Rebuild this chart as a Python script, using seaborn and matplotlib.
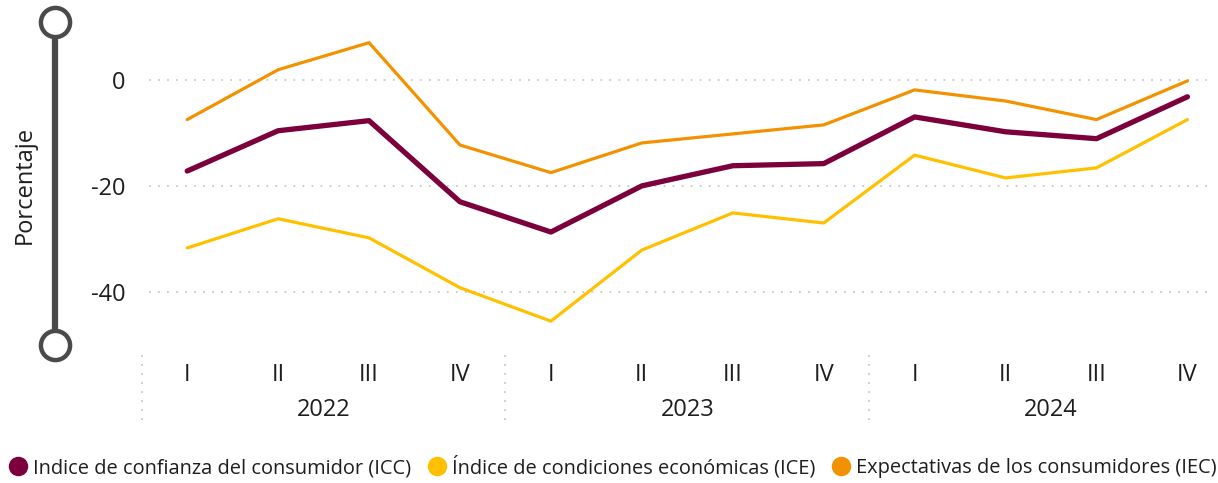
import matplotlib
matplotlib.use("Agg")
import matplotlib.pyplot as plt
from matplotlib.lines import Line2D
import matplotlib.transforms as mtrans
import seaborn as sns
import pandas as pd
import numpy as np

sns.set_theme(style="white")
plt.rcParams['font.family'] = ['Open Sans', 'DejaVu Sans']

years = ["2022", "2023", "2024"]
quarters = ["I", "II", "III", "IV"]
icc = [-17.2, -9.6, -7.7, -23.0, -28.7, -20.0, -16.2, -15.8, -7.0, -9.8, -11.1, -3.2]
ice = [-31.7, -26.2, -29.8, -39.2, -45.5, -32.1, -25.1, -27.0, -14.2, -18.5, -16.6, -7.5]
iec = [-7.5, 1.9, 7.0, -12.3, -17.5, -11.9, -10.2, -8.5, -1.9, -4.0, -7.5, -0.2]

names = ["Indice de confianza del consumidor (ICC)",
         "Índice de condiciones económicas (ICE)",
         "Expectativas de los consumidores (IEC)"]
colors = ["#7B003C", "#FFC000", "#F39200"]
widths = [3.8, 2.3, 2.3]
textc = "#1E1E1E"

W, H = 1218, 483
fig = plt.figure(figsize=(W / 100, H / 100), dpi=100)
ax = fig.add_axes([149 / W, 1 - 345 / H, (1212 - 149) / W, (345 - 22) / H])

x = np.arange(len(icc))
series = [icc, ice, iec]
for idx in [1, 2, 0]:
    df = pd.DataFrame({"x": x, "v": series[idx]})
    sns.lineplot(data=df, x="x", y="v", ax=ax, color=colors[idx],
                 linewidth=widths[idx], solid_capstyle="round",
                 solid_joinstyle="round")

ax.set_xlim(-0.42, 11.27)
ax.set_ylim(-50, 10.9)
ax.set_yticks([-40, -20, 0])
ax.set_yticklabels(["-40", "-20", "0"], fontsize=17, color=textc)
ax.yaxis.grid(True, linestyle=(0, (1, 4)), color="#C8C8C8", linewidth=1.3)
ax.xaxis.grid(False)
for s in ax.spines.values():
    s.set_visible(False)
ax.tick_params(axis="y", length=0, pad=17)
ax.tick_params(axis="x", length=0, pad=13)
ax.set_xticks(x)
ax.set_xticklabels(quarters * len(years), fontsize=17, color=textc)
ax.set_xlabel("")
ax.set_ylabel("")

trans = mtrans.blended_transform_factory(ax.transData, ax.transAxes)
for i, yr in enumerate(years):
    ax.text(i * 4 + 1.5, -0.2, yr, transform=trans, ha="center", va="center",
            fontsize=17, color=textc)
for b in [-0.5, 3.5, 7.5]:
    ax.add_line(Line2D([b, b], [-0.03, -0.25], transform=trans, clip_on=False,
                       color="#C8C8C8", linestyle=(0, (1, 4)), linewidth=1.3))

fig.text(25 / W, 1 - 185 / H, "Porcentaje", rotation=90, ha="center", va="center",
         fontsize=17, color=textc)

fig.add_artist(Line2D([55 / W, 55 / W], [1 - 22 / H, 1 - 345 / H],
                      transform=fig.transFigure, color="#4A4A4A", linewidth=4.5))
for yy in [22, 345]:
    fig.add_artist(Line2D([55 / W], [1 - yy / H], transform=fig.transFigure,
                          marker="o", markersize=21, markerfacecolor="white",
                          markeredgecolor="#4A4A4A", markeredgewidth=3.2,
                          linestyle="none"))

handles = [Line2D([], [], marker="o", linestyle="none", markersize=13,
                  markerfacecolor=c, markeredgecolor=c) for c in colors]
fig.legend(handles, names, loc="center left", bbox_to_anchor=(0.004, 1 - 467 / H),
           ncol=3, frameon=False, fontsize=14.4, handlelength=0.7,
           handletextpad=0.4, columnspacing=0.95, borderaxespad=0, borderpad=0.3,
           labelcolor=textc)

fig.savefig("out.png", dpi=100)
